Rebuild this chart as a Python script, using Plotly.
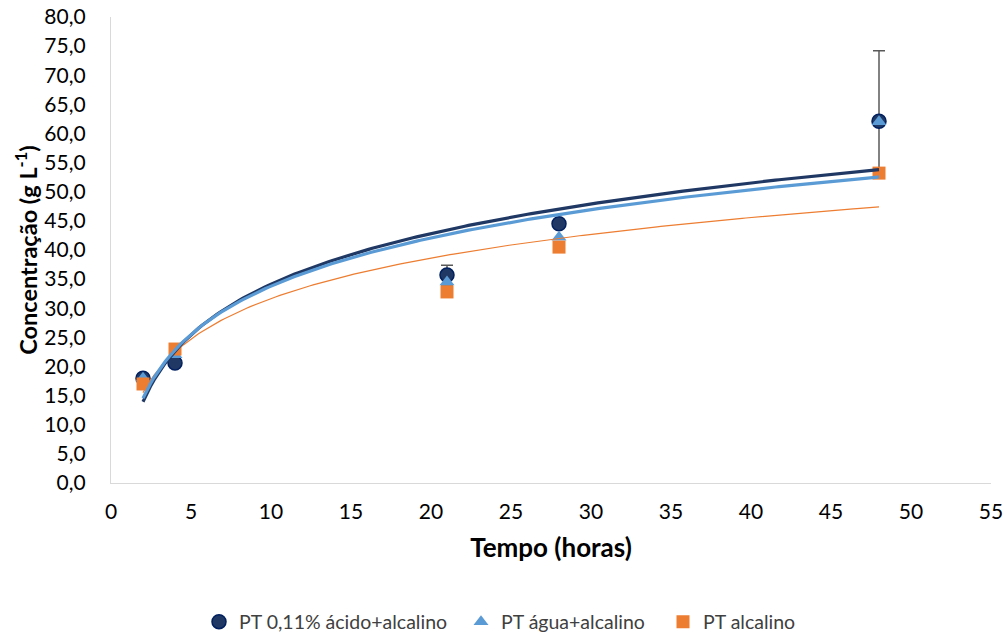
import numpy as np
import plotly.graph_objects as go

tempo = [2, 4, 21, 28, 48]
acido_alcalino = [18.0, 20.6, 35.7, 44.5, 62.1]
acido_alcalino_err_plus = [0.5, 0.4, 1.7, 0.6, 12.1]
acido_alcalino_err_minus = [0.5, 0.4, 1.7, 0.6, 8.0]
agua_alcalino = [18.0, 22.0, 34.5, 42.2, 62.0]
alcalino = [17.0, 23.0, 32.8, 40.5, 53.2]

names = ["PT 0,11% ácido+alcalino", "PT água+alcalino", "PT alcalino"]
navy = "#1F3864"
lblue = "#5B9BD5"
orange = "#ED7D31"

FONT = "Lato"
fig = go.Figure()

fig.add_trace(go.Scatter(
    x=tempo, y=acido_alcalino, mode="markers", name=names[0], legend="legend",
    marker=dict(symbol="circle", size=14, color="#203864", line=dict(color="#002060", width=1.5)),
    error_y=dict(type="data", symmetric=False, array=acido_alcalino_err_plus,
                 arrayminus=acido_alcalino_err_minus, color="#595959", thickness=1.5, width=6),
))
fig.add_trace(go.Scatter(
    x=tempo, y=agua_alcalino, mode="markers", name=names[1], legend="legend2",
    marker=dict(symbol="triangle-up", size=13, color=lblue, line=dict(width=0)),
))
fig.add_trace(go.Scatter(
    x=tempo, y=alcalino, mode="markers", name=names[2], legend="legend3",
    marker=dict(symbol="square", size=13, color=orange, line=dict(width=0)),
))

# logarithmic trendlines
xs = np.linspace(min(tempo), max(tempo), 200)
for ys, col, w in [(alcalino, orange, 1.2), (acido_alcalino, navy, 3.2), (agua_alcalino, lblue, 3.2)]:
    a, b = np.polyfit(np.log(tempo), ys, 1)
    fig.add_trace(go.Scatter(x=xs, y=a * np.log(xs) + b, mode="lines",
                             line=dict(color=col, width=w), showlegend=False, hoverinfo="skip"))

L, R, T, B = 111, 16, 17, 152
W, H = 1007, 635

legfont = dict(size=19.5, color="#404040", family=FONT)
leg_common = dict(orientation="h", xanchor="left", yanchor="middle", font=legfont,
                  xref="container", yref="container",
                  bgcolor="rgba(0,0,0,0)", itemwidth=30)

fig.update_layout(
    width=W, height=H,
    margin=dict(l=L, r=R, t=T, b=B, autoexpand=False),
    plot_bgcolor="white", paper_bgcolor="white",
    separators=", ",
    font=dict(family=FONT, color="#000000"),
    xaxis=dict(range=[0, 55], dtick=5, tick0=0, showgrid=False, zeroline=False, automargin=False,
               showline=True, linecolor="#D9D9D9", linewidth=1.3,
               tickfont=dict(size=21, color="#000000", family=FONT), ticks="",
               ticklabelstandoff=10,
               title=dict(text="<b>Tempo (horas)</b>", font=dict(size=26, family=FONT), standoff=16)),
    yaxis=dict(range=[0, 80], dtick=5, tick0=0, tickformat=".1f", showgrid=False, zeroline=False,
               automargin=False,
               showline=True, linecolor="#D9D9D9", linewidth=1.3,
               tickfont=dict(size=21, color="#000000", family=FONT), ticks="",
               ticklabelstandoff=20,
               title=dict(text="<b>Concentração (g L<sup>-1</sup>)</b>", font=dict(size=23.5, family=FONT), standoff=0)),
    legend=dict(x=199 / W, y=(H - 622) / H, **leg_common),
    legend2=dict(x=461 / W, y=(H - 622) / H, **leg_common),
    legend3=dict(x=663 / W, y=(H - 622) / H, **leg_common),
)

fig.write_html("out.html")
